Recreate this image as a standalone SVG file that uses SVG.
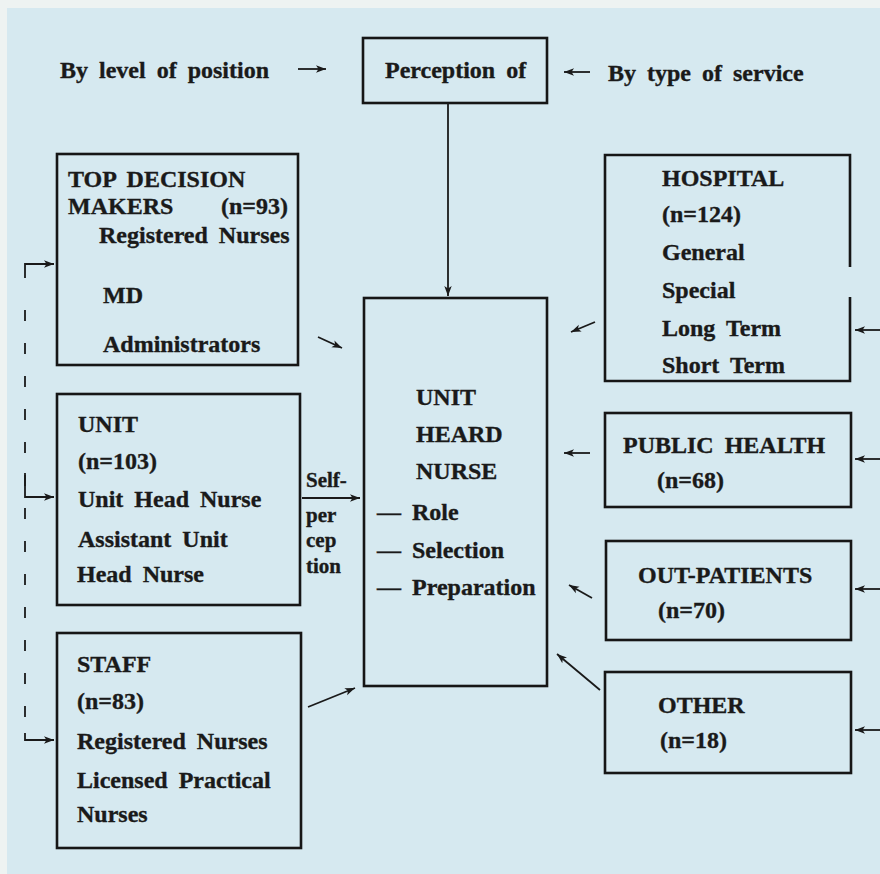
<svg xmlns="http://www.w3.org/2000/svg" width="880" height="874" viewBox="0 0 880 874">
<defs>
<style>
.bg{fill:#d6e9f0}
.box{fill:none;stroke:#161616;stroke-width:2.6}
.t{font-family:"Liberation Serif","Times New Roman",serif;font-weight:bold;font-size:24px;fill:#1a1a1a;stroke:#1a1a1a;stroke-width:0.35;word-spacing:5px}
.s{font-size:21px;word-spacing:0}
.c{fill:none;stroke:#1a1a1a;stroke-width:1.8}
.d{fill:none;stroke:#1a1a1a;stroke-width:1.8;stroke-dasharray:11 22}
</style>
<marker id="ah" markerUnits="userSpaceOnUse" markerWidth="11" markerHeight="9" refX="10" refY="4.5" orient="auto">
<path d="M0,0.8 L10,4.5 L0,8.2 L2.5,4.5 Z" fill="#1a1a1a"/>
</marker>
</defs>
<rect class="bg" x="0" y="0" width="880" height="874"/>
<rect x="0" y="0" width="880" height="8" fill="#eef3f2"/>
<rect x="0" y="0" width="7" height="874" fill="#eef3f2"/>

<g id="header">
<text class="t" x="60" y="78">By level of position</text>
<text class="t" x="608" y="81">By type of service</text>
</g>

<g id="perception">
<rect class="box" x="363" y="38" width="184" height="65"/>
<text class="t" x="385" y="78">Perception of</text>
</g>

<g id="top-decision-makers">
<rect class="box" x="57" y="154" width="241" height="211"/>
<text class="t" x="68" y="187">TOP DECISION</text>
<text class="t" x="68" y="214">MAKERS</text>
<text class="t" x="221" y="214">(n=93)</text>
<text class="t" x="99" y="243">Registered Nurses</text>
<text class="t" x="103" y="303">MD</text>
<text class="t" x="103" y="352">Administrators</text>
</g>

<g id="unit">
<rect class="box" x="57" y="394" width="243" height="211"/>
<text class="t" x="78" y="432">UNIT</text>
<text class="t" x="78" y="469">(n=103)</text>
<text class="t" x="78" y="507">Unit Head Nurse</text>
<text class="t" x="78" y="547">Assistant Unit</text>
<text class="t" x="77" y="582">Head Nurse</text>
</g>

<g id="staff">
<rect class="box" x="57" y="633" width="244" height="215"/>
<text class="t" x="77" y="672">STAFF</text>
<text class="t" x="77" y="709">(n=83)</text>
<text class="t" x="77" y="749">Registered Nurses</text>
<text class="t" x="77" y="788">Licensed Practical</text>
<text class="t" x="77" y="822">Nurses</text>
</g>

<g id="unit-head-nurse">
<rect class="box" x="364" y="298" width="183" height="388"/>
<text class="t" x="416" y="405">UNIT</text>
<text class="t" x="416" y="442">HEARD</text>
<text class="t" x="416" y="479">NURSE</text>
<text class="t" x="377" y="520">— Role</text>
<text class="t" x="377" y="558">— Selection</text>
<text class="t" x="377" y="595">— Preparation</text>
</g>

<g id="hospital">
<path class="box" d="M850,267 V155 H605 V381 H850 V297"/>
<text class="t" x="662" y="186">HOSPITAL</text>
<text class="t" x="662" y="222">(n=124)</text>
<text class="t" x="662" y="260">General</text>
<text class="t" x="662" y="298">Special</text>
<text class="t" x="662" y="336">Long Term</text>
<text class="t" x="662" y="373">Short Term</text>
</g>

<g id="public-health">
<rect class="box" x="605" y="413" width="246" height="94"/>
<text class="t" x="623" y="453">PUBLIC HEALTH</text>
<text class="t" x="657" y="488">(n=68)</text>
</g>

<g id="out-patients">
<rect class="box" x="606" y="541" width="245" height="99"/>
<text class="t" x="638" y="583">OUT-PATIENTS</text>
<text class="t" x="658" y="618">(n=70)</text>
</g>

<g id="other">
<rect class="box" x="605" y="672" width="246" height="101"/>
<text class="t" x="658" y="713">OTHER</text>
<text class="t" x="660" y="748">(n=18)</text>
</g>

<g id="connectors">
<line class="c" x1="298" y1="69" x2="326" y2="69" marker-end="url(#ah)"/>
<line class="c" x1="590" y1="72" x2="564" y2="72" marker-end="url(#ah)"/>
<line class="c" x1="448" y1="103" x2="448" y2="296" marker-end="url(#ah)"/>
<line class="c" x1="318" y1="337" x2="342" y2="348" marker-end="url(#ah)"/>
<line class="c" x1="302" y1="498" x2="360" y2="498" marker-end="url(#ah)"/>
<text class="t s" x="306" y="487">Self-</text>
<text class="t s" x="306" y="522">per</text>
<text class="t s" x="306" y="547">cep</text>
<text class="t s" x="306" y="573">tion</text>
<line class="c" x1="308" y1="707" x2="355" y2="688" marker-end="url(#ah)"/>
<line class="c" x1="595" y1="322" x2="571" y2="332" marker-end="url(#ah)"/>
<line class="c" x1="590" y1="453" x2="564" y2="453" marker-end="url(#ah)"/>
<line class="c" x1="592" y1="598" x2="569" y2="585" marker-end="url(#ah)"/>
<line class="c" x1="600" y1="690" x2="557" y2="654" marker-end="url(#ah)"/>
<line class="c" x1="880" y1="330" x2="855" y2="330" marker-end="url(#ah)"/>
<line class="c" x1="880" y1="459" x2="855" y2="459" marker-end="url(#ah)"/>
<line class="c" x1="880" y1="589" x2="855" y2="589" marker-end="url(#ah)"/>
<line class="c" x1="880" y1="730" x2="855" y2="730" marker-end="url(#ah)"/>
<path class="d" d="M25,310 V720"/>
<path class="c" d="M25,278 V264 H54" marker-end="url(#ah)"/>
<path class="c" d="M25,473 V497 H54" marker-end="url(#ah)"/>
<path class="c" d="M25,733 V740 H54" marker-end="url(#ah)"/>
</g>
</svg>
